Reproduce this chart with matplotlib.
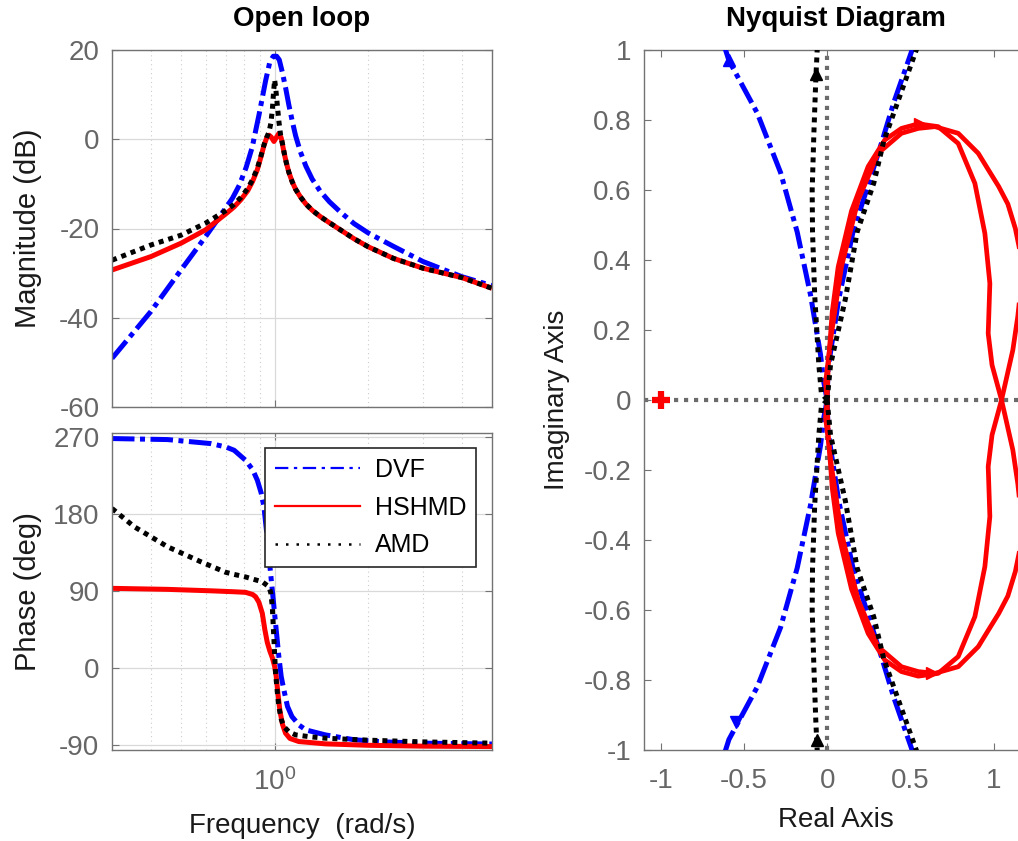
#!/usr/bin/env python3
"""Open-loop Bode plot (left) and Nyquist diagram (right) for DVF / HSHMD / AMD."""

from __future__ import annotations

import matplotlib

matplotlib.use("Agg")

import matplotlib.pyplot as plt
from matplotlib.lines import Line2D
from matplotlib.ticker import FixedLocator, NullFormatter
import numpy as np

# ---- magnitude (dB) ----
dvf_mag_freq = [0.30, 0.40, 0.50, 0.60, 0.665, 0.732, 0.77, 0.81, 0.847, 0.891, 0.936, 0.965, 0.99,
                1.015, 1.035, 1.058, 1.085, 1.111, 1.14, 1.168, 1.21, 1.26, 1.32, 1.40, 1.50, 1.627,
                1.8, 2.0, 2.41, 3.0, 4.0, 5.0]
dvf_mag_db = [-49.1, -38.6, -29.3, -21.8, -17.4, -13.2, -10.3, -6.3, -1.8, 5.5, 13.2, 17.3, 18.6,
              18.6, 17.8, 15.1, 11.5, 7.7, 4.0, 0.8, -2.8, -6.0, -8.9, -11.6, -14.0, -16.3,
              -18.9, -21.0, -24.0, -27.4, -30.8, -32.8]

hshmd_mag_freq = [0.30, 0.40, 0.50, 0.60, 0.70, 0.74, 0.78, 0.82, 0.85, 0.88, 0.905, 0.925, 0.945,
                  0.96, 0.975, 0.995, 1.015, 1.032, 1.05, 1.071, 1.09, 1.111, 1.14, 1.168, 1.21, 1.26,
                  1.32, 1.40, 1.50, 1.627, 1.8, 2.0, 2.41, 3.0, 4.0, 5.0]
hshmd_mag_db = [-29.3, -26.3, -23.3, -20.3, -16.6, -15.2, -13.5, -11.5, -9.4, -6.8, -3.8, -1.3, 0.5,
                0.9, 0.5, -0.5, 0.5, 1.3, 0.3, -2.8, -5.2, -7.4, -9.6, -11.2, -12.9, -14.5,
                -15.9, -17.3, -18.7, -20.3, -22.3, -24.1, -26.7, -28.9, -31.0, -33.4]

amd_mag_freq = [0.30, 0.40, 0.50, 0.60, 0.70, 0.74, 0.78, 0.82, 0.85, 0.88, 0.905, 0.925, 0.945,
                0.959, 0.972, 0.983, 0.992, 1.0, 1.008, 1.02, 1.033, 1.045, 1.06, 1.075, 1.09, 1.111,
                1.14, 1.168, 1.21, 1.26, 1.32, 1.40, 1.50, 1.627, 1.8, 2.0, 2.41, 3.0, 4.0, 5.0]
amd_mag_db = [-27.1, -23.7, -21.5, -18.8, -15.9, -14.6, -13.0, -11.0, -9.0, -6.5, -3.6, -1.2, 0.6,
              1.6, 3.5, 6.5, 10.5, 13.3, 11.5, 7.7, 3.8, 1.0, -1.0, -3.3, -5.2, -7.4,
              -9.6, -11.2, -12.9, -14.5, -15.9, -17.3, -18.7, -20.3, -22.3, -24.1, -26.7, -28.9,
              -31.0, -33.4]

# ---- phase (deg) ----
dvf_ph_freq = [0.30, 0.453, 0.624, 0.696, 0.741, 0.807, 0.85, 0.88, 0.905, 0.924, 0.942, 0.959, 0.983,
               1.007, 1.032, 1.05, 1.071, 1.10, 1.137, 1.20, 1.26, 1.456, 1.8, 2.24, 3.0, 5.0]
dvf_ph_deg = [268.5, 267.3, 262.6, 258.7, 254.8, 243.0, 232.0, 219.7, 205.0, 188.5, 160.0, 130.0, 91.0,
              52.2, 13.2, -10.0, -25.7, -45.0, -56.9, -67.0, -72.5, -78.3, -84.0, -86.5, -88.0, -89.0]

hshmd_ph_freq = [0.30, 0.453, 0.624, 0.741, 0.807, 0.85, 0.869, 0.89, 0.913, 0.93, 0.947, 0.965, 0.983,
                 1.0, 1.012, 1.025, 1.04, 1.06, 1.084, 1.12, 1.196, 1.456, 2.0, 3.0, 5.0]
hshmd_ph_deg = [93.2, 92.0, 90.3, 89.2, 88.5, 86.0, 83.3, 77.0, 63.9, 45.0, 30.0, 20.0, 12.0,
                2.0, -10.0, -30.0, -50.0, -66.0, -76.3, -82.5, -86.1, -88.8, -90.5, -91.5, -92.0]

amd_ph_freq = [0.30, 0.354, 0.453, 0.579, 0.696, 0.741, 0.807, 0.913, 0.959, 0.972, 0.983, 0.995, 1.007,
               1.02, 1.032, 1.05, 1.071, 1.11, 1.168, 1.30, 1.456, 2.0, 3.0, 5.0]
amd_ph_deg = [186.7, 165.2, 141.8, 124.3, 112.0, 109.5, 106.5, 100.8, 95.0, 88.0, 71.7, 32.7, -6.2,
              -28.0, -45.2, -60.0, -68.6, -74.5, -78.3, -80.5, -82.2, -84.5, -86.5, -88.0]

# ---- Nyquist: positive-imaginary half of each branch (the other half is the conjugate) ----
dvf_left_re = [0.0, -0.02, -0.04, -0.10, -0.18, -0.28, -0.42, -0.59, -0.63]
dvf_left_im = [0.0, 0.05, 0.13, 0.30, 0.48, 0.65, 0.82, 0.97, 1.03]
dvf_right_re = [0.0, 0.005, 0.07, 0.155, 0.25, 0.33, 0.40, 0.51, 0.53]
dvf_right_im = [0.0, 0.09, 0.29, 0.48, 0.62, 0.74, 0.85, 1.0, 1.03]
amd_left_re = [0.0, -0.035, -0.05, -0.075, -0.088, -0.09, -0.08, -0.068, -0.06, -0.058]
amd_left_im = [0.0, 0.02, 0.10, 0.30, 0.48, 0.60, 0.76, 0.92, 1.0, 1.03]
amd_right_re = [0.0, 0.02, 0.11, 0.18, 0.28, 0.34, 0.43, 0.535, 0.555]
amd_right_im = [0.0, 0.10, 0.29, 0.48, 0.62, 0.74, 0.86, 1.0, 1.03]
# HSHMD loop (positive frequencies), drawn again mirrored
hshmd_nyq_re = [0.0, 0.006, 0.03, 0.066, 0.146, 0.246, 0.346, 0.446, 0.547, 0.667, 0.787, 0.887, 0.947,
                0.977, 0.967, 0.99, 1.047, 1.07, 1.115, 1.145, 1.165, 1.16, 1.13, 1.085, 1.03, 0.965,
                0.907, 0.787, 0.647, 0.547, 0.446, 0.306, 0.186, 0.086, 0.026, -0.01, 0.0]
hshmd_nyq_im = [0.0, 0.095, 0.25, 0.38, 0.54, 0.667, 0.743, 0.776, 0.789, 0.781, 0.733, 0.619, 0.476,
                0.333, 0.19, 0.10, 0.0, -0.048, -0.143, -0.24, -0.33, -0.42, -0.49, -0.56, -0.61, -0.66,
                -0.705, -0.762, -0.781, -0.776, -0.762, -0.705, -0.571, -0.381, -0.19, -0.05, 0.0]

# direction arrows (x, y, marker)
dvf_arrows = [(-0.59, 0.97, "^"), (-0.55, -0.92, "v")]
amd_arrows = [(-0.065, 0.93, "^"), (-0.062, -0.97, "^")]
hshmd_arrows = [(0.56, 0.789, ">"), (0.63, -0.781, ">")]
critical_point = (-1.0, 0.0)

series_names = ["DVF", "HSHMD", "AMD"]
mag_yticks = [-60, -40, -20, 0, 20]
phase_yticks = [-90, 0, 90, 180, 270]
nyq_xticks = [-1, -0.5, 0, 0.5, 1]
nyq_xticklabels = ["-1", "-0.5", "0", "0.5", "1"]
nyq_yticks = [-1, -0.8, -0.6, -0.4, -0.2, 0, 0.2, 0.4, 0.6, 0.8, 1]
nyq_yticklabels = ["-1", "-0.8", "-0.6", "-0.4", "-0.2", "0", "0.2", "0.4", "0.6", "0.8", "1"]
minor_freqs = [0.4, 0.5, 0.6, 0.7, 0.8, 0.9, 2, 3, 4]

BLUE = "#0000ff"
RED = "#ff0000"
BLACK = "#000000"
TICK_GRAY = "0.40"
SPINE_GRAY = "0.45"
DASHDOT = (0, (4.5, 1.1, 1.0, 1.1))
DOTTED = (0, (1.0, 1.0))

plt.rcParams["font.family"] = ["Liberation Sans", "DejaVu Sans"]
plt.rcParams["axes.unicode_minus"] = False
plt.rcParams["mathtext.default"] = "regular"


def _style_axes(ax) -> None:
    for spine in ax.spines.values():
        spine.set_color(SPINE_GRAY)
        spine.set_linewidth(1.0)
    ax.tick_params(which="both", direction="in", colors=SPINE_GRAY, labelcolor=TICK_GRAY,
                   labelsize=20, pad=9, length=5, top=True, right=True)
    ax.tick_params(axis="x", pad=13)
    ax.tick_params(which="minor", length=0)


def _bode(ax_mag, ax_ph) -> None:
    lw = 3.6
    ax_mag.plot(dvf_mag_freq, dvf_mag_db, color=BLUE, lw=lw, ls=DASHDOT, dash_capstyle="butt")
    ax_mag.plot(hshmd_mag_freq, hshmd_mag_db, color=RED, lw=lw, solid_capstyle="butt")
    ax_mag.plot(amd_mag_freq, amd_mag_db, color=BLACK, lw=lw, ls=DOTTED, dash_capstyle="butt")

    ax_ph.plot(dvf_ph_freq, dvf_ph_deg, color=BLUE, lw=lw, ls=DASHDOT, dash_capstyle="butt")
    ax_ph.plot(hshmd_ph_freq, hshmd_ph_deg, color=RED, lw=lw, solid_capstyle="butt")
    ax_ph.plot(amd_ph_freq, amd_ph_deg, color=BLACK, lw=lw, ls=DOTTED, dash_capstyle="butt")

    for ax in (ax_mag, ax_ph):
        ax.set_xscale("log")
        ax.set_xlim(0.3, 5.0)
        ax.xaxis.set_major_locator(FixedLocator([1.0]))
        ax.xaxis.set_minor_locator(FixedLocator(minor_freqs))
        ax.xaxis.set_minor_formatter(NullFormatter())
        _style_axes(ax)
        ax.grid(True, which="major", color="0.85", lw=0.9, ls="-")
        ax.grid(True, which="minor", axis="x", color="0.80", lw=0.8, ls=(0, (1, 3)))
        ax.set_axisbelow(True)

    ax_mag.set_ylim(-60, 20)
    ax_mag.set_yticks(mag_yticks)
    ax_mag.set_xticklabels([])
    ax_mag.set_ylabel("Magnitude (dB)", fontsize=21, color="0.1")
    ax_mag.yaxis.set_label_coords(-0.184, 0.5)
    ax_mag.set_title("Open loop", fontsize=20, fontweight="bold", pad=17)

    ax_ph.set_ylim(-96, 275)
    ax_ph.set_yticks(phase_yticks)
    ax_ph.set_xticklabels([r"$\mathdefault{10^{0}}$"])
    ax_ph.set_ylabel("Phase (deg)", fontsize=21, color="0.1")
    ax_ph.yaxis.set_label_coords(-0.184, 0.5)
    ax_ph.set_xlabel("Frequency  (rad/s)", fontsize=20, color="0.1")
    ax_ph.xaxis.set_label_coords(0.5, -0.2)
    ax_ph.xaxis.label.set_verticalalignment("top")

    handles = [
        Line2D([], [], color=BLUE, lw=1.6, ls=(0, (6, 2.5, 1.5, 2.5))),
        Line2D([], [], color=RED, lw=1.6),
        Line2D([], [], color=BLACK, lw=1.8, ls=(0, (1, 3.2))),
    ]
    leg = ax_ph.legend(handles, series_names, loc="upper right", bbox_to_anchor=(0.958, 0.953),
                       borderaxespad=0.0, fontsize=18, handlelength=3.4, handletextpad=0.6,
                       labelspacing=0.55, borderpad=0.4, fancybox=False, framealpha=1.0)
    leg.get_frame().set_edgecolor("0.15")
    leg.get_frame().set_linewidth(1.2)


def _nyquist(ax) -> None:
    ax.axhline(0, color="0.42", lw=3.0, ls=(0, (1, 1.4)), dash_capstyle="butt", zorder=1)
    ax.axvline(0, color="0.42", lw=3.0, ls=(0, (1, 1.4)), dash_capstyle="butt", zorder=1)

    lw = 3.6
    for sign in (1, -1):
        ax.plot(dvf_left_re, np.multiply(dvf_left_im, sign), color=BLUE, lw=lw, ls=DASHDOT,
                dash_capstyle="butt", zorder=3)
        ax.plot(dvf_right_re, np.multiply(dvf_right_im, sign), color=BLUE, lw=lw, ls=DASHDOT,
                dash_capstyle="butt", zorder=3)
        ax.plot(hshmd_nyq_re, np.multiply(hshmd_nyq_im, sign), color=RED, lw=3.4, zorder=4)
        ax.plot(amd_left_re, np.multiply(amd_left_im, sign), color=BLACK, lw=lw, ls=DOTTED,
                dash_capstyle="butt", zorder=5)
        ax.plot(amd_right_re, np.multiply(amd_right_im, sign), color=BLACK, lw=lw, ls=DOTTED,
                dash_capstyle="butt", zorder=5)

    for arrows, color in ((dvf_arrows, BLUE), (amd_arrows, BLACK), (hshmd_arrows, RED)):
        for x, y, marker in arrows:
            ax.plot([x], [y], marker=marker, color=color, ms=8, ls="none", zorder=6)

    ax.plot([critical_point[0]], [critical_point[1]], marker="+", color=RED, ms=13, mew=4.5,
            ls="none", zorder=6)

    ax.set_xlim(-1.1, 1.2)
    ax.set_ylim(-1.0, 1.0)
    ax.set_xticks(nyq_xticks)
    ax.set_xticklabels(nyq_xticklabels)
    ax.set_yticks(nyq_yticks)
    ax.set_yticklabels(nyq_yticklabels)
    _style_axes(ax)
    ax.spines["right"].set_visible(False)
    ax.set_xlabel("Real Axis", fontsize=20, color="0.1")
    ax.xaxis.set_label_coords(0.5, -0.081)
    ax.xaxis.label.set_verticalalignment("top")
    ax.set_ylabel("Imaginary Axis", fontsize=20, color="0.1")
    ax.yaxis.set_label_coords(-0.192, 0.5)
    ax.set_title("Nyquist Diagram", fontsize=20, fontweight="bold", pad=17)


def main() -> None:
    fig = plt.figure(figsize=(10.18, 8.41), dpi=100)
    ax_mag = fig.add_axes([112 / 1018, 1 - 407 / 841, 380 / 1018, 357 / 841])
    ax_ph = fig.add_axes([112 / 1018, 1 - 750 / 841, 380 / 1018, 317 / 841])
    ax_nyq = fig.add_axes([644 / 1018, 1 - 750 / 841, 383 / 1018, 700 / 841])

    _bode(ax_mag, ax_ph)
    _nyquist(ax_nyq)

    fig.savefig("out.png", dpi=100)
    plt.close(fig)


if __name__ == "__main__":
    main()
